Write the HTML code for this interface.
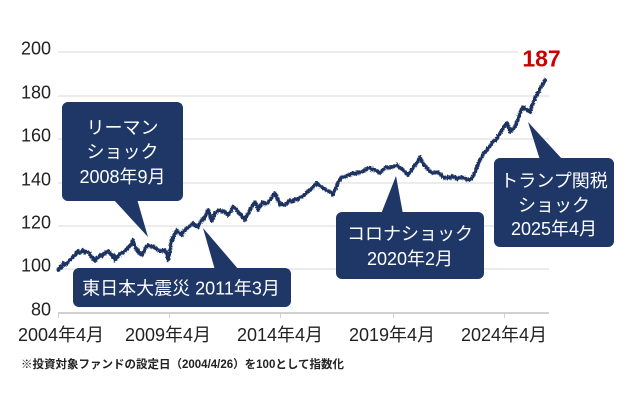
<!DOCTYPE html>
<html>
<head>
<meta charset="utf-8">
<style>
html,body{margin:0;padding:0;background:#fff;}
body{width:630px;height:406px;overflow:hidden;}
svg{display:block;}
.ax{font-family:"Liberation Sans","Noto Sans CJK JP",sans-serif;font-size:18px;fill:#222;}
.cl{font-family:"Liberation Sans","Noto Sans CJK JP",sans-serif;font-size:18px;fill:#fff;}
.fn{font-family:"Liberation Sans","Noto Sans CJK JP",sans-serif;font-size:11.5px;font-weight:bold;fill:#222;}
</style>
</head>
<body>
<svg width="630" height="406" viewBox="0 0 630 406" xmlns="http://www.w3.org/2000/svg">
<defs>
<filter id="j" x="-5%" y="-10%" width="110%" height="120%">
<feTurbulence type="fractalNoise" baseFrequency="0.8" numOctaves="1" seed="3" result="n"/>
<feDisplacementMap in="SourceGraphic" in2="n" scale="3.5" xChannelSelector="R" yChannelSelector="G"/>
</filter>
</defs>
<!-- gridlines -->
<g stroke="#d9d9d9" stroke-width="1">
<line x1="58" y1="52" x2="549" y2="52"/>
<line x1="58" y1="96" x2="549" y2="96"/>
<line x1="58" y1="139" x2="549" y2="139"/>
<line x1="58" y1="183" x2="549" y2="183"/>
<line x1="58" y1="226" x2="549" y2="226"/>
<line x1="58" y1="269" x2="549" y2="269"/>
</g>
<line x1="58" y1="313" x2="549" y2="313" stroke="#d0d0d0" stroke-width="2"/>
<g stroke="#d0d0d0" stroke-width="1">
<line x1="58.5" y1="312" x2="58.5" y2="318"/>
<line x1="169.5" y1="312" x2="169.5" y2="318"/>
<line x1="280.5" y1="312" x2="280.5" y2="318"/>
<line x1="393.5" y1="312" x2="393.5" y2="318"/>
<line x1="504.5" y1="312" x2="504.5" y2="318"/>
</g>
<!-- y labels -->
<g class="ax" text-anchor="end">
<text x="51" y="54.5">200</text>
<text x="51" y="98.5">180</text>
<text x="51" y="141.5">160</text>
<text x="51" y="185.5">140</text>
<text x="51" y="228.5">120</text>
<text x="51" y="271.5">100</text>
<text x="51" y="315.5">80</text>
</g>
<!-- x labels -->
<g class="ax" text-anchor="middle">
<text x="61" y="341">2004年4月</text>
<text x="168" y="341">2009年4月</text>
<text x="280" y="341">2014年4月</text>
<text x="392" y="341">2019年4月</text>
<text x="504" y="341">2024年4月</text>
</g>
<text class="fn" x="21" y="368">※投資対象ファンドの設定日（2004/4/26）を100として指数化</text>

<!-- data line -->
<polyline filter="url(#j)" fill="none" stroke="#1c3260" stroke-width="3.6" stroke-linejoin="round" stroke-linecap="round" points="
58,270 60,267 61,268 63,263 65,265 66,264 68,262 70,260 72,258 73,257 75,255 76,254 77,252 78,251 80,253 81,252 83,250 85,253 86,252 88,252 90,254 91,256 93,259 94,258 95,261 97,258 99,257 100,255 102,256 103,254 105,253 106,252 108,251 110,253 111,254 113,257 114,255 115,260 117,257 118,256 120,254 122,253 124,252 125,251 127,249 128,248 130,246 131,245 132,242 133,240 134,244 135,246 137,251 138,250 139,253 141,254 142,255 144,251 145,249 146,247 148,245 150,246 151,247 153,246 155,248 157,249 158,250 160,251 162,250 163,251 165,250 166,253 167,254 168,260 169,256 170,250 171,243 172,238 173,240 174,235 176,232 177,230 178,232 179,233 181,234 182,235 183,232 184,231 186,229 187,228 189,227 190,226 192,224 193,223 195,225 196,226 198,227 199,224 201,222 202,220 203,218 204,219 205,216 206,215 207,213 208,210 209,212 210,215 211,219 212,221 213,218 214,216 215,213 217,212 218,211 220,210 222,212 223,211 225,212 227,214 228,215 230,212 231,211 232,208 233,207 235,208 236,209 237,211 238,212 240,214 241,215 243,218 245,220 246,217 248,214 249,212 250,210 252,207 253,205 254,203 255,202 256,204 257,206 258,210 259,208 261,205 262,203 263,202 265,204 266,203 268,203 269,201 271,199 272,197 273,196 274,194 275,193 276,195 277,198 279,202 280,205 282,204 283,205 285,205 287,203 288,202 290,200 292,202 293,201 295,199 297,200 298,199 299,198 301,197 302,197 304,195 306,193 308,191 310,190 312,188 313,187 315,185 317,183 319,185 320,186 322,187 323,188 325,189 326,190 328,191 330,192 332,193 333,195 334,192 335,190 336,188 337,185 338,182 340,180 341,178 343,177 345,177 346,176 348,175 350,175 351,174 353,173 355,174 357,172 358,173 360,172 362,172 363,171 365,170 367,169 368,168 370,168 372,170 373,169 375,170 377,171 378,172 380,173 382,171 383,170 385,168 387,167 389,168 390,167 392,167 393,167 395,166 397,165 399,167 400,168 402,169 403,170 405,172 406,173 408,175 409,173 411,171 412,169 413,168 415,165 416,164 417,163 419,159 420,157 421,159 422,161 423,163 424,165 425,166 427,168 428,170 430,171 431,172 432,173 434,173 435,172 437,173 438,172 440,174 441,175 443,177 445,178 447,178 448,177 450,178 452,176 453,177 455,177 457,179 458,178 460,178 462,177 463,178 465,178 467,180 468,179 470,180 472,178 473,176 474,174 475,172 477,167 478,165 479,162 480,160 482,157 483,155 484,153 485,152 487,150 488,148 490,146 492,143 493,142 494,141 496,140 497,138 498,136 499,135 501,132 502,130 503,128 504,127 506,124 507,123 508,126 509,128 510,132 511,131 513,129 514,128 515,127 517,122 518,119 519,116 520,113 521,111 522,109 523,107 524,108 525,109 526,109 527,110 529,111 530,112 531,109 532,106 534,101 535,98 536,96 537,95 539,91 540,88 541,87 543,84 544,82 545,80"/>

<!-- 187 label -->
<rect x="518" y="44" width="48" height="26" fill="#fff"/>
<text x="541.5" y="66.5" text-anchor="middle" font-family="Liberation Sans, sans-serif" font-weight="bold" font-size="23" fill="#cc0000">187</text>

<!-- callout: Lehman -->
<g fill="#1e3766">
<polygon points="113,199 137,199 148,237"/>
<rect x="62" y="102" width="121" height="99" rx="6" ry="6"/>
</g>
<g class="cl" text-anchor="middle">
<text x="122.5" y="134">リーマン</text>
<text x="122.5" y="158">ショック</text>
<text x="122.5" y="183">2008年9月</text>
</g>

<!-- callout: quake -->
<g fill="#1e3766">
<polygon points="215,270 239,270 203,228"/>
<rect x="73" y="268" width="218" height="39" rx="6" ry="6"/>
</g>
<text class="cl" x="181" y="294.5" text-anchor="middle">東日本大震災 2011年3月</text>

<!-- callout: corona -->
<g fill="#1e3766">
<polygon points="381,214 403,214 396,176"/>
<rect x="336" y="212" width="148" height="67" rx="6" ry="6"/>
</g>
<g class="cl" text-anchor="middle">
<text x="410" y="240">コロナショック</text>
<text x="410" y="265">2020年2月</text>
</g>

<!-- callout: trump -->
<g fill="#1e3766">
<polygon points="540,160 563,160 528,122"/>
<rect x="494" y="158" width="120" height="89" rx="6" ry="6"/>
</g>
<g class="cl" text-anchor="middle">
<text x="554" y="187">トランプ関税</text>
<text x="554" y="211.5">ショック</text>
<text x="554" y="235">2025年4月</text>
</g>
</svg>
</body>
</html>
